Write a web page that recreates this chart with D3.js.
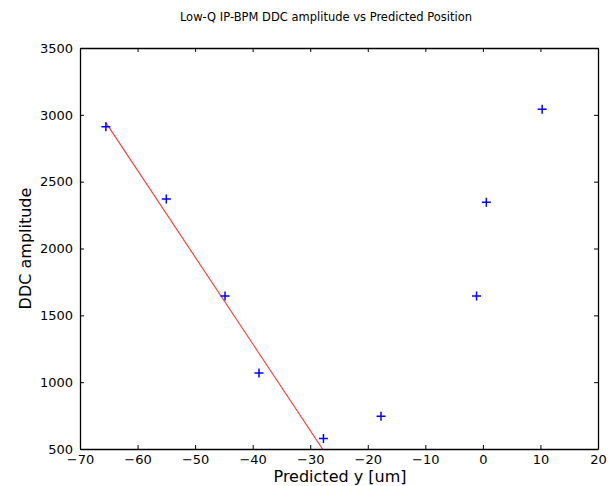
<!DOCTYPE html>
<head>
    <meta charset="utf-8">
    <title>Low-Q IP-BPM DDC amplitude vs Predicted Position</title>
    <style>
        body { margin: 0; background: #fff; }
        text { font-family: "DejaVu Sans", sans-serif; fill: #000; }
    </style>
</head>
<body>
    <script src="https://d3js.org/d3.v7.min.js"></script>
    <script>

        // measured points (predicted y in um, DDC amplitude)
        var predictedY = [-65.5, -55.0, -44.8, -38.9, -27.7, -17.7, -1.1, 0.6, 10.3];
        var amplitude = [2910, 2370, 1645, 1068, 578, 745, 1645, 2346, 3042];

        // fitted line end points
        var fitX = [-65.5, -27.4];
        var fitY = [2942, 470];

        var xTicks = [-70, -60, -50, -40, -30, -20, -10, 0, 10, 20];
        var yTicks = [500, 1000, 1500, 2000, 2500, 3000, 3500];

        var margin = { top: 48, right: 13, bottom: 37, left: 80 },
            width = 611 - margin.left - margin.right,
            height = 486 - margin.top - margin.bottom;

        var x = d3.scaleLinear().domain([-70, 20]).range([0, width]);
        var y = d3.scaleLinear().domain([500, 3500]).range([height, 0]);

        var fmt = function (d) { return String(d).replace('-', '\u2212'); };

        var svg = d3.select('body').append('svg')
            .attr('width', 611)
            .attr('height', 486);

        var g = svg.append('g')
            .attr('transform', 'translate(' + margin.left + ',' + margin.top + ')');

        g.append('clipPath').attr('id', 'clip')
            .append('rect').attr('width', width).attr('height', height);

        // fit line
        g.append('path')
            .datum(d3.zip(fitX, fitY))
            .attr('clip-path', 'url(#clip)')
            .attr('fill', 'none')
            .attr('stroke', '#ff4040')
            .attr('stroke-width', 1.2)
            .attr('d', d3.line().x(function (d) { return x(d[0]); }).y(function (d) { return y(d[1]); }));

        // plus markers
        var pts = g.selectAll('.pt')
            .data(d3.zip(predictedY, amplitude))
            .enter().append('g')
            .attr('transform', function (d) { return 'translate(' + x(d[0]) + ',' + y(d[1]) + ')'; });
        pts.append('path')
            .attr('d', 'M-4.5,0H4.5M0,-4.5V4.5')
            .attr('stroke', '#0000ff')
            .attr('stroke-width', 1.5);

        // axes: inward ticks on all sides
        g.append('g')
            .attr('transform', 'translate(0,' + height + ')')
            .call(d3.axisBottom(x).tickValues(xTicks).tickSizeInner(-4).tickSizeOuter(0).tickPadding(6).tickFormat(fmt));
        g.append('g')
            .call(d3.axisTop(x).tickValues(xTicks).tickSizeInner(-4).tickSizeOuter(0).tickFormat(''));
        g.append('g')
            .call(d3.axisLeft(y).tickValues(yTicks).tickSizeInner(-4).tickSizeOuter(0).tickPadding(7).tickFormat(fmt));
        g.append('g')
            .attr('transform', 'translate(' + width + ',0)')
            .call(d3.axisRight(y).tickValues(yTicks).tickSizeInner(-4).tickSizeOuter(0).tickFormat(''));

        svg.selectAll('.domain').attr('stroke', '#000').attr('stroke-width', 1.3);
        svg.selectAll('.tick line').attr('stroke', '#000').attr('stroke-width', 1);
        svg.selectAll('.tick text').attr('font-family', 'DejaVu Sans').attr('font-size', 13).attr('fill', '#000');

        // titles
        svg.append('text')
            .attr('x', 326)
            .attr('y', 21)
            .attr('text-anchor', 'middle')
            .attr('font-size', 11.5)
            .text('Low-Q IP-BPM DDC amplitude vs Predicted Position');

        svg.append('text')
            .attr('x', 340)
            .attr('y', 482)
            .attr('text-anchor', 'middle')
            .attr('font-size', 16)
            .text('Predicted y [um]');

        svg.append('text')
            .attr('transform', 'translate(31,' + (margin.top + height / 2) + ') rotate(-90)')
            .attr('text-anchor', 'middle')
            .attr('font-size', 16)
            .text('DDC amplitude');

    </script>
</body>
